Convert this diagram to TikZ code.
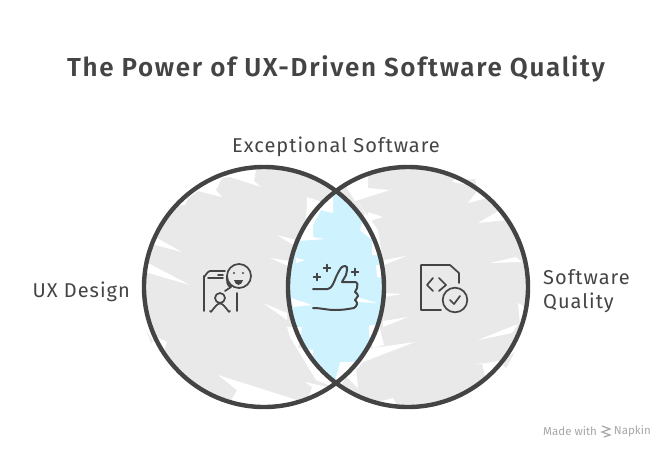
\documentclass[tikz,border=0pt]{standalone}
\usepackage{fontspec}
\setmainfont{Fira Sans}
\newfontfamily\titlefont[LetterSpace=6.5]{Fira Sans SemiBold}
\newfontfamily\labelfont[LetterSpace=5]{Fira Sans}
\definecolor{ink}{HTML}{444444}
\definecolor{veil}{HTML}{E9E9E9}
\definecolor{sky}{HTML}{CFF2FF}
\definecolor{faint}{HTML}{A6A6A6}
\begin{document}
\begin{tikzpicture}[x=1pt,y=-1pt,
	every node/.style={text=ink,inner sep=0pt},
	ringline/.style={draw=ink,line width=4.4pt},
	iconline/.style={draw=ink,line width=1.7pt,line cap=round,line join=round},
	notch/.style={fill=white},
	poke/.style={fill=veil},
	biglabel/.style={font=\labelfont\fontsize{20}{24}\selectfont}]
	\useasboundingbox (0,0) rectangle (672,456);
	
	\coordinate (ux) at (264,287);
	\coordinate (sq) at (408,287);
	
	% fills
	\fill[veil] (ux) circle (120);
	\fill[veil] (sq) circle (120);
	\foreach \gap in {{(249,163)--(262,166)--(262,172)--(249,172)},
		{(368,178)--(372,170)--(380,170)--(380,180)},
		{(451,181)--(475,179)--(477,192)--(455,188)},
		{(484,198)--(492,205)--(493,220)--(486,212)},
		{(146,330)--(152,345)--(160,352)--(152,340)},
		{(515,352)--(506,368)--(500,362)},
		{(393,400)--(396,408)--(420,408)--(420,400)}}
		\fill[poke] \gap--cycle;
	\begin{scope}
		\clip (ux) circle (120);
		\fill[sky] (sq) circle (120);
	\end{scope}
	
	% left scribble gaps
	\foreach \gap in {{(257,165)--(254,181)--(261,187)--(230,177)--(222,178)--(216,190)--(222,197)--(198,191)--(188,198)--(185,205)--(173,205)--(150,190)--(240,160)},
		{(157,238)--(182,252)--(155,245)--(140,245)--(140,238)},
		{(148,263)--(190,285)--(145,272)--(135,268)},
		{(157,337)--(167,342)--(163,353)--(150,345)},
		{(218,375)--(297,400)--(300,412)--(230,412)--(230,402)--(237,390)},
		{(277,235)--(296,240)--(296,246)--(290,243)},
		{(270,258)--(290,267)--(290,261)},
		{(263,303)--(287,313)--(287,320)},
		{(305,382)--(327,387)--(330,395)--(307,402)--(312,387)}}
		\fill[notch] \gap--cycle;
	
	% lens scribble gaps
	\foreach \gap in {{(307,197)--(322,202)--(333,188)--(333,213)--(321,210)--(313,225)--(313,237)--(325,239)--(298,241)--(306,222)},
		{(296,258)--(305,260)--(296,263)},
		{(291,298)--(312,305)--(293,307)},
		{(287,327)--(302,327)--(300,340)--(298,348)--(313,350)--(313,357)--(333,381)--(336,388)--(316,380)--(290,337)},
		{(340,362)--(355,362)--(338,390)--(335,382)},
		{(357,201)--(365,213)--(360,230)--(372,240)--(372,255)--(382,255)--(378,230)},
		{(376,265)--(384,265)--(384,278)--(377,277)},
		{(357,297)--(377,303)--(358,302)},
		{(379,325)--(369,325)--(369,335)--(373,348)--(384,345)}}
		\fill[notch] \gap--cycle;
	
	% right scribble gaps
	\foreach \gap in {{(368,178)--(368,188)--(390,190)--(355,201)--(345,185)--(368,165)},
		{(383,217)--(367,222)--(368,212)},
		{(384,260)--(406,256)--(384,265)},
		{(452,182)--(464,184)--(460,174)},
		{(468,203)--(487,198)--(478,190)},
		{(478,223)--(508,220)--(500,210)},
		{(490,263)--(516,257)--(522,262)},
		{(385,297)--(402,294)--(385,293)},
		{(383,327)--(408,317)--(383,321)},
		{(373,348)--(415,342)--(363,362)--(356,370)--(358,388)--(345,375)--(365,350)},
		{(478,340)--(518,324)--(512,333)},
		{(475,365)--(482,363)--(485,377)--(500,375)--(505,360)},
		{(378,402)--(393,398)--(397,405)--(380,410)},
		{(440,402)--(460,397)--(456,410)},
		{(518,303)--(520,324)--(530,310)}}
		\fill[notch] \gap--cycle;
	
	% rings
	\draw[ringline] (ux) circle (120);
	\draw[ringline] (sq) circle (120);
	
	% texts
	\node[font=\titlefont\fontsize{26}{30}\selectfont] (heading) at (336,69) {The Power of UX-Driven Software Quality};
	\node[biglabel] (overlap) at (336,147) {Exceptional Software};
	\node[biglabel,anchor=east] (left) at (130,292) {UX Design};
	\node[biglabel,anchor=west,align=left] (right) at (543,291) {Software\\Quality};
	\node[font=\fontsize{11.5}{14}\selectfont,text=faint,anchor=west] (made) at (543,431) {Made with};
	\node[font=\fontsize{11.5}{14}\selectfont,text=faint,anchor=east] (napkin) at (651,431) {Napkin};
	\draw[faint,line width=1.2pt] (602,426)--(610,429)--(602,432)--(610,435)--(604,437);
	
	% person icon
	\draw[iconline] (204,311)--(204,276) to[out=-90,in=180] (210,271)--(225,271);
	\draw[iconline] (208,278)--(223,278);
	\draw[iconline] (218,275)--(223,275);
	\draw[iconline] (237,293)--(237,311);
	\draw[iconline] (225,291)--(231,287) to[out=170,in=-90] (227,276) arc (180:-180:12 and 12);
	\fill[ink] (234,273) circle (1.2);
	\fill[ink] (243,273) circle (1.2);
	\fill[ink] (234,280) to[out=-70,in=180] (238.5,285) to[out=0,in=-110] (243,280)--cycle;
	\draw[iconline] (220,298) circle (5);
	\draw[iconline] (210,311) to[out=-90,in=180] (220,303.5) to[out=0,in=-90] (230,311);
	
	% thumb icon
	\draw[iconline,line width=2pt] (313,289)--(325,289) to[out=-10,in=-120] (338,273) to[out=60,in=180] (345,266) to[out=0,in=80] (346,275)--(342,282)--(355,282) to[out=0,in=60] (357,288) to[out=-110,in=60] (355,292) to[out=-60,in=60] (358,296) to[out=-120,in=60] (355,300) to[out=-60,in=60] (357,304) to[out=-120,in=20] (354,308) to[out=190,in=0] (335,310) to[out=180,in=0] (313,308);
	\foreach \sx/\sy in {327/268,317/277,355/272}{
		\draw[iconline,line width=1.4pt] (\sx-3.5,\sy)--(\sx+3.5,\sy) (\sx,\sy-3.5)--(\sx,\sy+3.5);
	}
	
	% document icon
	\draw[iconline] (441,310)--(421,310)--(421,265)--(450,265)--(459,273)--(459,283);
	\draw[iconline] (433,278)--(427,285)--(433,291);
	\draw[iconline] (439,278)--(446,285)--(439,291);
	\draw[iconline] (455,300) circle (12.3);
	\draw[iconline] (450,300)--(454,304)--(460,296);
\end{tikzpicture}
\end{document}
